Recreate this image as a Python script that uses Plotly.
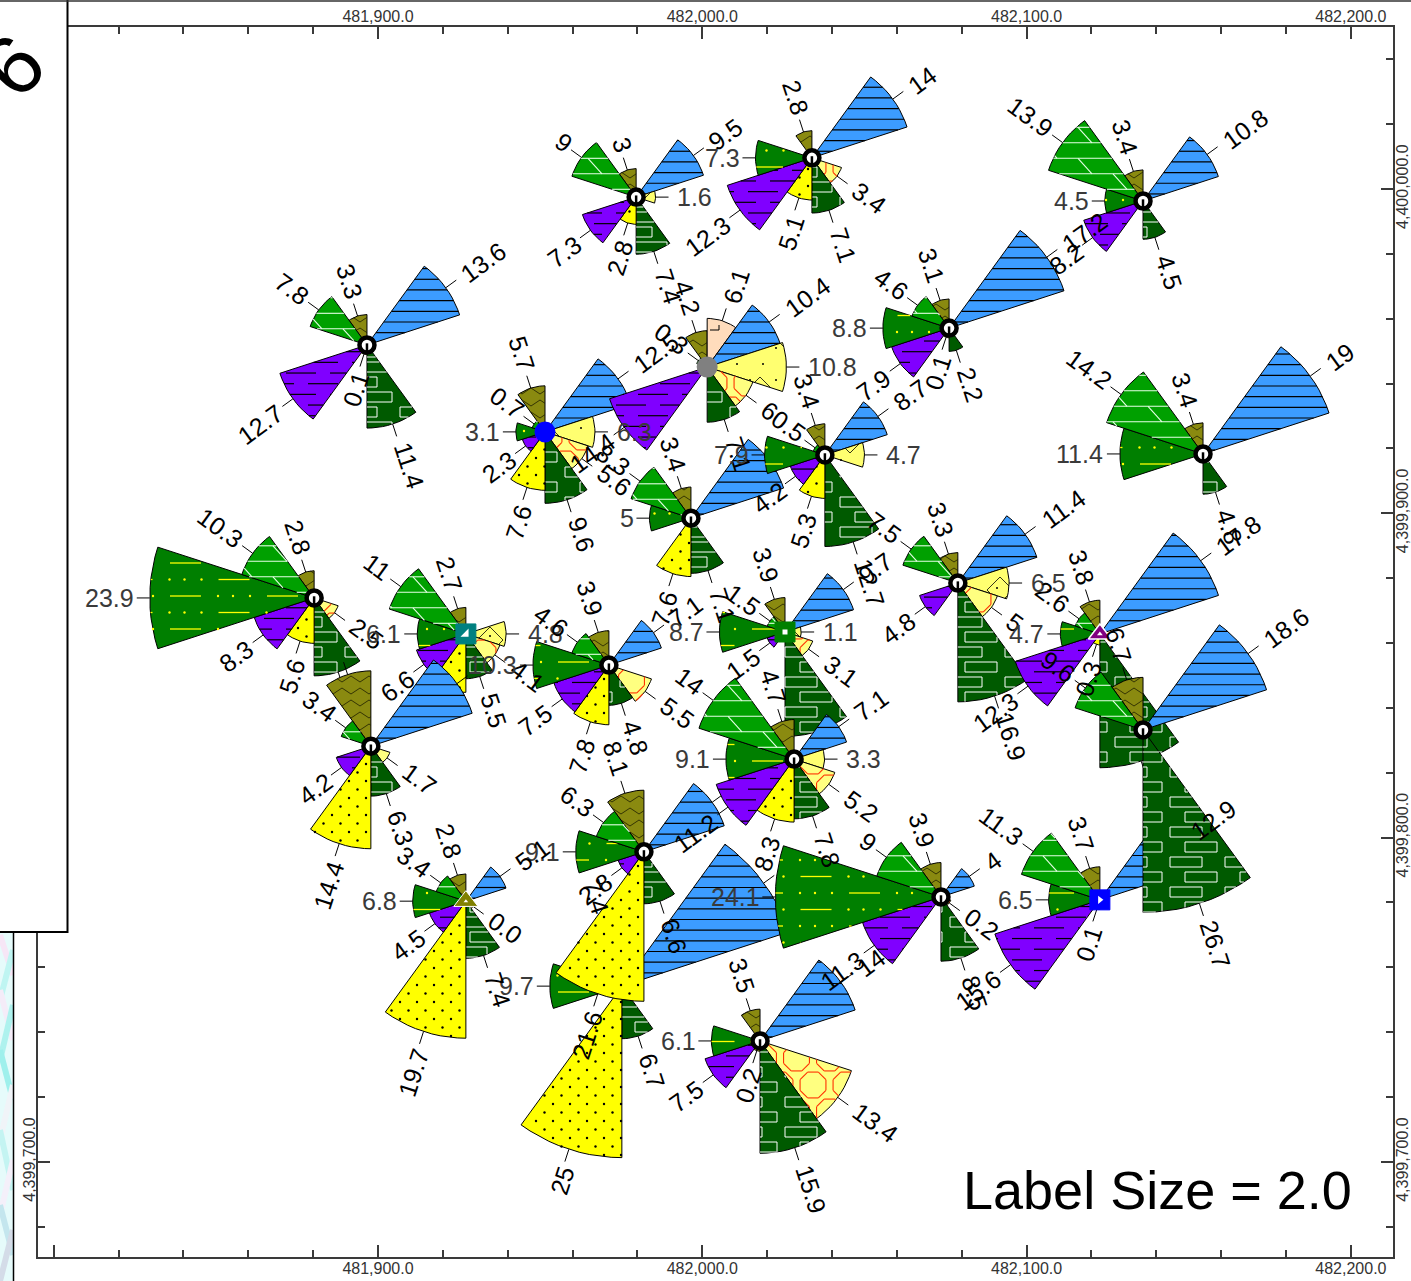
import math
import plotly.graph_objects as go

# ---------- data: stations in drawing order ----------
stations = ["A","B","C","D","E","F","I","H","J","G","Y","X","U","W","Q","N","O","L","K","T","S","M","R","P","V"]
easting  = [481896.6,481979.6,482033.8,482135.9,482076.1,482154.4,481951.5,482001.5,481996.5,482037.8,482078.8,482122.6,482122.6,482135.9,481880.3,481927.1,481897.8,481971.2,482025.5,481975.2,481982.0,482028.3,481927.1,482073.6,482017.8]
northing = [4399951.9,4399997.5,4400009.6,4399996.3,4399957.1,4399918.3,4399925.1,4399945.1,4399898.5,4399918.0,4399878.5,4399862.8,4399780.8,4399833.2,4399873.9,4399862.8,4399828.2,4399853.2,4399863.4,4399754.2,4399795.6,4399824.2,4399780.4,4399781.7,4399737.3]
symbols  = ["ring","ring","ring","ring","ring","ring","blue_dot","grey_dot","ring","ring","ring","purple_tri","blue_sq","ring","ring","teal_sq","ring","ring","green_sq","ring","ring","ring","olive_tri","ring","ring"]

_ = None
#           A    B    C    D    E    F    I    H    J    G    Y    X    U    W    Q    N    O    L    K    T    S    M    R    P    V
sec_n   = [3.3, 3,   2.8, 3.4, 3.1, 3.4, 5.7, 4.2, 3.4, 3.4, 3.3, 3.8, 3.7, 6.7, 2.8, 2.7, 10.2,3.9, 3.9, 7.4, 8.1, 4.7, 2.8, 3.9, 3.5]
sec_nne = [_,   _,   _,   _,   _,   _,   _,   6.1, _,   _,   _,   _,   _,   _,   _,   _,   _,   _,   _,   _,   _,   _,   _,   _,   _  ]
sec_ne  = [13.6,9.5, 14,  10.8,17.2,19,  12.5,10.4,13.6,8.7, 11.4,17.8,12.9,18.6,_,   _,   15,  7.1, 9.7, 25.6,11.6,7.1, 5.1, 4,   14 ]
sec_e   = [_,   1.6, _,   _,   _,   _,   6.3, 10.8,_,   4.7, 6.5, _,   _,   _,   _,   4.8, _,   _,   1.1, _,   _,   3.3, _,   _,   _  ]
sec_ese = [_,   _,   3.4, _,   _,   _,   5.6, 6,   _,   _,   5,   _,   _,   _,   2.5, 4.1, 1.7, 5.5, 3.1, _,   _,   5.2, 0.0, 0.2, 13.4]
sec_sse = [11.4,7.4, 7.1, 4.5, 2.2, 4.8, 9.6, 7.1, 7.1, 12.7,16.9,19.2,_,   26.7,10.6,5.5, 6.3, 4.8, 14.7,6.7, 6.6, 7.8, 7.4, 8.5, 15.9]
sec_ssw = [0.1, 2.8, 5.1, _,   0.1, _,   7.6, _,   7.6, 5.3, _,   0.3, 0.1, _,   5.6, 7.6, 14.4,7.8, _,   25,  21.6,8.3, 19.7,_,   0.2]
sec_wsw = [12.7,7.3, 12.3,8.2, 7.9, _,   2.3, 14.4,_,   4.2, 4.8, 12.3,15.6,_,   8.3, 6.6, 4.2, 7.5, 1.5, _,   2.8, 11.2,4.5, 11.3,7.5]
sec_w   = [_,   _,   7.3, 4.5, 8.8, 11.4,3.1, _,   5,   7.9, _,   4.7, 6.5, _,   23.9,6.1, _,   10.3,8.7, 9.7, 9.1, 9.1, 6.8, 24.1,6.1]
sec_wnw = [7.8, 9,   _,   13.9,4.6, 14.2,0.7, 0.3, 8.3, 0.5, 7.5, 2.6, 11.3,9.6, 10.3,11,  3.4, 4.6, 1.5, _,   6.3, 14,  3.4, 9,   _  ]
sectors = [sec_n, sec_nne, sec_ne, sec_e, sec_ese, sec_sse, sec_ssw, sec_wsw, sec_w, sec_wnw]
sector_names = ["olive","peach","blue","lemon","octagon","brick","dots","purple","green","lime"]
sector_mid = [-18, 18, 54, 90, 126, 162, 198, 234, 270, 306]
sector_fill = ["#8a8a10","#ffdcbc","#3c9cff","#ffff70","#ffff80","#005a00","#ffff00","#8000ff","#007f00","#00a000"]
# labels buried under later roses in the reference
hidden_labels = {("N",6),("J",2),("S",2),("T",2),("Q",5),("X",5),("O",2),("O",0),("K",5)}

x_ticks = [481800, 481900, 482000, 482100, 482200]
x_text  = ["", "481,900.0", "482,000.0", "482,100.0", "482,200.0"]
y_ticks = [4399700, 4399800, 4399900, 4400000]
y_text  = ["4,399,700.0", "4,399,800.0", "4,399,900.0", "4,400,000.0"]
note_text = "Label Size = 2.0"

# ---------- geometry ----------
W, H = 1413, 1281
L_PX, R_PX, T_PX, B_PX = 38, 1393, 27, 1257
S = 3.243
X900_PX, Y400_PX = 378.0, 189.0
LABEL_SIZE = 25
def to_px(x, y):  return X900_PX + (x - 481900) * S, Y400_PX + (4400000 - y) * S
def to_x(p):      return 481900 + (p - X900_PX) / S
def to_y(p):      return 4400000 - (p - Y400_PX) / S
def radius_px(v): return 9 + 6.5 * v

def wedge_px(cx, cy, r, mid, half=18, n=10):
    pts = [(cx, cy)]
    for i in range(n + 1):
        a = math.radians(mid - half + 2 * half * i / n)
        pts.append((cx + r * math.sin(a), cy - r * math.cos(a)))
    return pts

def clip_seg(seg, poly):
    (x0, y0, x1, y1) = seg
    t0, t1 = 0.0, 1.0
    dx, dy = x1 - x0, y1 - y0
    m = len(poly)
    gx = sum(p[0] for p in poly) / m; gy = sum(p[1] for p in poly) / m
    for i in range(m):
        ax, ay = poly[i]; bx, by = poly[(i + 1) % m]
        nx, ny = by - ay, -(bx - ax)
        if nx * (gx - ax) + ny * (gy - ay) > 0:
            nx, ny = -nx, -ny
        num = nx * (x0 - ax) + ny * (y0 - ay)
        den = nx * dx + ny * dy
        if abs(den) < 1e-12:
            if num > 0: return None
            continue
        t = -num / den
        if den > 0: t1 = min(t1, t)
        else:       t0 = max(t0, t)
        if t0 >= t1: return None
    return (x0 + t0 * dx, y0 + t0 * dy, x0 + t1 * dx, y0 + t1 * dy)

def inside(px, py, poly):
    m = len(poly)
    gx = sum(p[0] for p in poly) / m; gy = sum(p[1] for p in poly) / m
    for i in range(m):
        ax, ay = poly[i]; bx, by = poly[(i + 1) % m]
        nx, ny = by - ay, -(bx - ax)
        if nx * (gx - ax) + ny * (gy - ay) > 0:
            nx, ny = -nx, -ny
        if nx * (px - ax) + ny * (py - ay) > 0: return False
    return True

def rows(y0, step, ymin, ymax):
    k = math.floor((ymin - y0) / step)
    while y0 + k * step <= ymax:
        yield k, y0 + k * step
        k += 1

def cols(x0, step, xmin, xmax):
    k = math.floor((xmin - x0) / step) - 1
    while x0 + k * step <= xmax + step:
        yield x0 + k * step
        k += 1

def pattern(name, b):
    """pattern strokes in page pixels for a bbox; returns segs, dots"""
    xmin, ymin, xmax, ymax = b
    segs, dots = [], []
    if name == "blue":
        for _k, y in rows(279.3, 10.67, ymin, ymax):
            segs.append((xmin, y, xmax, y))
    elif name == "purple":
        for k, y in rows(277.0, 10.67, ymin, ymax):
            for x in cols(k % 2 * 22, 44, xmin, xmax):
                segs.append((x, y, x + 30, y))
    elif name == "brick":
        for k, y in rows(862.0, 15.0, ymin, ymax):
            for x in cols(1170 + (k % 2) * 15, 55, xmin, xmax):
                x2 = x + 32; t = y - 5; u = y + 5
                segs += [(x, t, x2, t), (x2, t, x2, u), (x2, u, x, u), (x, u, x, t)]
    elif name == "lime":
        for k, y in rows(158.3, 15.5, ymin, ymax):
            segs.append((xmin, y, xmax, y))
            for x in cols(1078 + (k % 2) * 35, 70, xmin, xmax):
                segs.append((x, y, x + 14, y + 15.5))
    elif name == "green":
        for k, y in rows(596.0, 16.5, ymin, ymax):
            for x in cols(170 + (k % 2) * 48.5, 97, xmin, xmax):
                segs.append((x, y, x + 31, y))
                dots += [(x + 48, y), (x + 63, y), (x + 80, y)]
    elif name == "dots":
        for k, y in rows(900.0, 8.5, ymin, ymax):
            for x in cols(400 + (k % 2) * 8.5, 17, xmin, xmax):
                dots.append((x, y))
    elif name == "octagon":
        R = 14.0
        for k, y in rows(1085.0, 27.0, ymin - R, ymax + R):
            for x in cols(780 + (k % 2) * 16.5, 33, xmin - R, xmax + R):
                v = [(x + R * math.cos(math.radians(22.5 + 45 * i)),
                      y + R * math.sin(math.radians(22.5 + 45 * i))) for i in range(8)]
                for i in range(8):
                    segs.append((v[i][0], v[i][1], v[(i + 1) % 8][0], v[(i + 1) % 8][1]))
    elif name == "lemon":
        for k, y in rows(390.0, 50.0, ymin - 14, ymax + 14):
            for x in cols(760 + (k % 2) * 30, 60, xmin - 14, xmax + 14):
                v = [(x - 13, y), (x, y - 13), (x + 13, y), (x, y + 13)]
                for i in range(4):
                    segs.append((v[i][0], v[i][1], v[(i + 1) % 4][0], v[(i + 1) % 4][1]))
        for k, y in rows(380.0, 16.0, ymin, ymax):
            for x in cols(750 + (k % 2) * 13, 26, xmin, xmax):
                dots.append((x, y))
    elif name == "olive":
        for k, y in rows(700.0, 12.0, ymin - 8, ymax + 8):
            for x in cols((k % 2) * 9, 18, xmin - 18, xmax + 18):
                segs.append((x, y + 6, x + 9, y))
                segs.append((x + 9, y, x + 18, y + 6))
    elif name == "peach":
        for k, y in rows(330.0, 24.0, ymin, ymax):
            for x in cols(710 + (k % 2) * 14, 30, xmin, xmax):
                segs += [(x, y, x + 9, y), (x + 9, y, x + 9, y - 5)]
    return segs, dots

stroke = {"blue":("#000",1.2),"purple":("#000",1.2),"brick":("#ffffff",1),"lime":("#e6ffe6",1.1),
          "green":("#ffff00",1.3),"dots":("#000",1),"octagon":("#ff3000",1.1),"lemon":("#000",0.8),
          "olive":("#1e1e00",0.8),"peach":("#000",1)}
dot_size = {"green":2.4,"dots":2.4,"lemon":2}

fig = go.Figure()
annotations = []

for si, name in enumerate(stations):
    cx, cy = to_px(easting[si], northing[si])
    leaders_x, leaders_y = [], []
    for k, vals in enumerate(sectors):
        v = vals[si]
        if v is None:
            continue
        r = radius_px(v)
        mid = sector_mid[k]
        key = sector_names[k]
        poly = wedge_px(cx, cy, r, mid)
        px = [p[0] for p in poly] + [poly[0][0]]
        py = [p[1] for p in poly] + [poly[0][1]]
        fig.add_trace(go.Scatter(x=[to_x(p) for p in px], y=[to_y(p) for p in py], mode="lines",
                                 fill="toself", fillcolor=sector_fill[k],
                                 line=dict(color="#000", width=1), hoverinfo="skip", showlegend=False))
        b = (min(px), min(py), max(px), max(py))
        segs, dots = pattern(key, b)
        hx, hy = [], []
        for s in segs:
            c = clip_seg(s, poly)
            if c:
                hx += [to_x(c[0]), to_x(c[2]), None]
                hy += [to_y(c[1]), to_y(c[3]), None]
        col, wd = stroke[key]
        if hx:
            fig.add_trace(go.Scatter(x=hx, y=hy, mode="lines", line=dict(color=col, width=wd),
                                     hoverinfo="skip", showlegend=False))
        keep = [d for d in dots if inside(d[0], d[1], poly)]
        if keep:
            dc = "#ffff00" if key == "green" else "#000"
            fig.add_trace(go.Scatter(x=[to_x(d[0]) for d in keep], y=[to_y(d[1]) for d in keep], mode="markers",
                                     marker=dict(color=dc, size=dot_size[key], line=dict(width=0)),
                                     hoverinfo="skip", showlegend=False))
        # leader and rotated value label
        a = math.radians(mid)
        sa, ca = math.sin(a), math.cos(a)
        leaders_x += [to_x(cx + r * sa), to_x(cx + (r + 13) * sa), None]
        leaders_y += [to_y(cy - r * ca), to_y(cy - (r + 13) * ca), None]
        if (name, k) not in hidden_labels:
            txt = str(v)
            w = LABEL_SIZE * sum(0.278 if ch == "." else 0.556 for ch in txt)
            d = r + 13 + 6 + w / 2
            tx, ty = cx + d * sa + 3, cy - d * ca
            m = mid % 360
            ang = m - 90 if m <= 180 else m - 270
            annotations.append(dict(x=to_x(tx), y=to_y(ty), xref="x", yref="y", text=txt, showarrow=False,
                                    textangle=ang, xanchor="center", yanchor="middle",
                                    font=dict(family="Liberation Sans", size=LABEL_SIZE,
                                              color="#3a3a3a" if ang == 0 else "#000")))
    if leaders_x:
        fig.add_trace(go.Scatter(x=leaders_x, y=leaders_y, mode="lines", line=dict(color="#000", width=1),
                                 hoverinfo="skip", showlegend=False))
    # station symbol
    kind = symbols[si]
    sx, sy = [easting[si]], [northing[si]]
    def mark(symbol, size, color, lc=None, lw=0, dy=0):
        fig.add_trace(go.Scatter(x=sx, y=[sy[0] + dy], mode="markers",
                                 marker=dict(symbol=symbol, size=size, color=color,
                                             line=dict(color=lc or color, width=lw)),
                                 hoverinfo="skip", showlegend=False))
    if kind == "ring":
        mark("circle", 15, "#fff", "#000", 4.5)
        mark("line-ns", 7, "#000", "#000", 2.5, dy=-1.0)
    elif kind == "blue_dot":
        mark("circle", 21, "#0000ff")
    elif kind == "grey_dot":
        mark("circle", 21, "#808080")
    elif kind == "teal_sq":
        mark("square", 20, "#008080", "#008080", 1)
        mark("triangle-se", 9, "#fff")
    elif kind == "green_sq":
        mark("square", 20, "#008000", "#008000", 1)
        mark("square", 5, "#fff")
    elif kind == "blue_sq":
        mark("square", 20, "#0000ff", "#0000ff", 1)
        mark("triangle-right", 7, "#fff")
    elif kind == "purple_tri":
        mark("triangle-up", 20, "#800080", "#fff", 1.5)
        mark("triangle-up", 5, "#fff")
    elif kind == "olive_tri":
        mark("triangle-up", 21, "#808000", "#fff", 1)
        mark("triangle-up", 4, "#fff")

# carrier trace for the top/right axes
fig.add_trace(go.Scatter(x=easting[:1], y=northing[:1], xaxis="x2", yaxis="y2", mode="markers",
                         marker=dict(opacity=0), hoverinfo="skip", showlegend=False))

x_range = [to_x(L_PX), to_x(R_PX)]
y_range = [to_y(B_PX), to_y(T_PX)]
dom_x = [L_PX / W, R_PX / W]
dom_y = [1 - B_PX / H, 1 - T_PX / H]
AX = "#3a3a3a"
tick_font = dict(family="Liberation Sans", size=16, color="#333")
common = dict(showgrid=False, zeroline=False, showline=True, linecolor=AX, linewidth=2,
              ticks="inside", ticklen=12, tickwidth=1.5, tickcolor=AX, tickfont=tick_font, tickmode="array")
xminor = dict(ticks="inside", ticklen=7, tickwidth=1.5, tickcolor=AX, tick0=481900, dtick=20, showgrid=False)
yminor = dict(ticks="inside", ticklen=7, tickwidth=1.5, tickcolor=AX, tick0=4400000, dtick=20, showgrid=False)

def xp(p): return p / W
def yp(p): return 1 - p / H
shapes = [
    # strip of background map at the left edge
    dict(type="rect", xref="paper", yref="paper", x0=xp(0), x1=xp(13.5), y0=yp(1281), y1=yp(932),
         fillcolor="#e6fbfb", line=dict(width=0), layer="above"),
]
for i, (a0, b0, a1, b1, c) in enumerate([
    (0,935,13,975,"#f6e6f6"),(13,950,0,1000,"#bff5f2"),(0,990,13,1040,"#f4ecf8"),(13,1005,0,1060,"#aef2ee"),
    (0,1050,13,1100,"#9ff0ec"),(13,1085,0,1140,"#f0f4f8"),(0,1130,13,1190,"#c4f4f2"),(13,1160,0,1215,"#f4f0fa"),
    (0,1205,13,1255,"#c4e6ee"),(13,1230,0,1281,"#d4dce8")]):
    shapes.append(dict(type="line", xref="paper", yref="paper", x0=xp(a0), x1=xp(a1), y0=yp(b0), y1=yp(b1),
                       line=dict(color=c, width=6), layer="above"))
shapes += [
    # white cover for line ends that spill past the strip
    dict(type="rect", xref="paper", yref="paper", x0=xp(14), x1=xp(22), y0=yp(1281), y1=yp(933),
         fillcolor="#fff", line=dict(width=0), layer="above"),
    dict(type="line", xref="paper", yref="paper", x0=xp(13.5), x1=xp(13.5), y0=yp(1281), y1=yp(932),
         line=dict(color="#000", width=1.5), layer="above"),
    # inset box covering the upper left corner
    dict(type="rect", xref="paper", yref="paper", x0=xp(-4), x1=xp(67.5), y0=yp(932), y1=yp(-3),
         fillcolor="#fff", line=dict(color="#000", width=2), layer="above"),
    dict(type="line", xref="paper", yref="paper", x0=xp(0), x1=xp(W), y0=yp(1), y1=yp(1),
         line=dict(color="#333", width=1.5), layer="above"),
]
annotations.append(dict(x=xp(1157), y=yp(1190), xref="paper", yref="paper", text=note_text, showarrow=False,
                        xanchor="center", yanchor="middle",
                        font=dict(family="Liberation Sans", size=54, color="#000")))
annotations.append(dict(x=xp(13), y=yp(66), xref="paper", yref="paper", text="6", showarrow=False,
                        textangle=-45, xanchor="center", yanchor="middle",
                        font=dict(family="Liberation Sans", size=84, color="#000")))

fig.update_layout(
    width=W, height=H, margin=dict(l=0, r=0, t=0, b=0), autosize=False,
    paper_bgcolor="#fff", plot_bgcolor="#fff", showlegend=False,
    xaxis=dict(domain=dom_x, range=x_range, anchor="y", side="bottom", tickvals=x_ticks, ticktext=x_text, minor=xminor, ticklabelstandoff=-4, **common),
    yaxis=dict(domain=dom_y, range=y_range, anchor="x", side="left", tickvals=y_ticks, ticktext=y_text, tickangle=-90, minor=yminor, ticklabelstandoff=-5, **common),
    xaxis2=dict(domain=dom_x, range=x_range, overlaying="x", anchor="y2", side="top", tickvals=x_ticks, ticktext=x_text, minor=xminor, ticklabelstandoff=-3, **common),
    yaxis2=dict(domain=dom_y, range=y_range, overlaying="y", anchor="x2", side="right", tickvals=y_ticks, ticktext=y_text, tickangle=-90, minor=yminor, ticklabelstandoff=-6, **common),
    shapes=shapes, annotations=annotations,
)
fig.write_html("out.html", config={"displayModeBar": False}, default_width="1413px", default_height="1281px",
               post_script="document.documentElement.style.overflow='hidden';document.body.style.margin='0';document.body.style.overflow='hidden';")
